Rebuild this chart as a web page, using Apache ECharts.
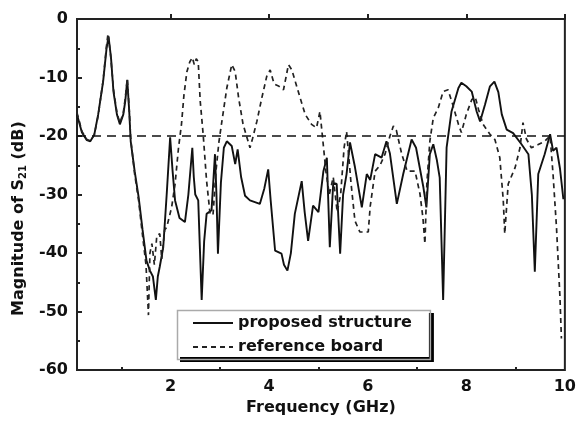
<!DOCTYPE html>
<html>
<head>
<meta charset="utf-8">
<script src="https://cdn.jsdelivr.net/npm/echarts@6/dist/echarts.min.js"></script>
<style>
html,body{margin:0;padding:0;background:#fff;}
#c{width:579px;height:421px;}
</style>
</head>
<body>
<div id="c"></div>
<script>
// Frequency (GHz) and magnitude (dB) for the proposed structure
var solidFreq = [0.1,0.2,0.3,0.37,0.45,0.53,0.63,0.70,0.74,0.79,0.84,0.91,0.97,1.04,1.08,1.12,1.16,1.19,1.27,1.35,1.43,1.51,1.58,1.64,1.70,1.74,1.78,1.85,1.92,1.99,2.04,2.09,2.18,2.29,2.36,2.44,2.47,2.50,2.56,2.63,2.68,2.73,2.83,2.90,2.93,2.96,3.02,3.08,3.14,3.24,3.31,3.36,3.43,3.51,3.61,3.71,3.81,3.90,3.98,4.03,4.12,4.25,4.30,4.37,4.44,4.52,4.66,4.72,4.79,4.89,5.00,5.03,5.10,5.17,5.23,5.30,5.37,5.44,5.50,5.57,5.64,5.74,5.88,5.98,6.05,6.15,6.28,6.38,6.45,6.59,6.72,6.89,6.98,7.13,7.19,7.26,7.33,7.40,7.46,7.53,7.60,7.70,7.84,7.90,8.00,8.11,8.21,8.28,8.38,8.48,8.57,8.65,8.72,8.82,8.95,9.12,9.26,9.33,9.39,9.46,9.59,9.70,9.76,9.83,9.90,9.97];
var solidDb = [-16.3,-19.4,-20.7,-20.9,-19.8,-16.3,-10.7,-5,-3.0,-6.6,-12.4,-16.3,-18.0,-16.3,-14,-10.4,-15.8,-20.9,-26,-30.4,-36,-41.3,-43,-44,-48,-44,-42.3,-39,-30,-20.2,-26,-31,-34,-34.7,-30,-22,-27,-30,-31,-48,-38,-33.3,-32.7,-23.1,-30,-40.1,-28,-22,-20.9,-21.7,-24.8,-22.3,-27,-30.2,-31,-31.3,-31.6,-29,-25.7,-31,-39.6,-40.1,-42,-43.0,-40,-33.3,-27.7,-33,-37.9,-31.9,-33.0,-33.3,-26,-23.7,-39,-28,-28.2,-40.1,-30,-26.5,-21.1,-25.3,-32.2,-26.5,-27.5,-23.1,-23.7,-20.9,-23,-31.6,-26.5,-20.6,-22,-28.8,-32.2,-23.1,-21.4,-24,-27.1,-48.0,-22,-15.8,-11.8,-10.9,-11.5,-12.4,-15.8,-17.5,-14.6,-11.5,-10.7,-12.5,-16.3,-18.9,-19.5,-21.4,-23.1,-30,-43.2,-26.5,-23.1,-19.7,-22.5,-22,-25.5,-30.8];

// Frequency (GHz) and magnitude (dB) for the reference board
var refFreq = [0.1,0.2,0.3,0.37,0.45,0.53,0.63,0.70,0.73,0.78,0.84,0.91,0.97,1.04,1.08,1.12,1.16,1.19,1.27,1.35,1.43,1.50,1.55,1.58,1.62,1.67,1.72,1.78,1.82,1.88,1.92,2.02,2.09,2.16,2.22,2.27,2.33,2.39,2.44,2.48,2.52,2.56,2.60,2.66,2.73,2.80,2.86,2.92,2.98,3.04,3.14,3.24,3.31,3.38,3.47,3.54,3.61,3.66,3.75,3.85,3.95,4.02,4.08,4.12,4.20,4.29,4.34,4.39,4.46,4.59,4.73,4.86,4.96,5.03,5.10,5.15,5.22,5.30,5.38,5.45,5.52,5.57,5.62,5.66,5.74,5.84,6.01,6.05,6.15,6.25,6.35,6.45,6.52,6.58,6.69,6.80,6.96,7.06,7.12,7.16,7.20,7.26,7.33,7.43,7.53,7.63,7.72,7.84,7.90,8.00,8.11,8.18,8.25,8.34,8.48,8.58,8.68,8.75,8.78,8.85,8.99,9.09,9.15,9.22,9.32,9.45,9.59,9.70,9.76,9.83,9.90,9.93];
var refDb = [-16.0,-19.2,-20.6,-20.8,-19.8,-16.5,-10.5,-4.5,-2.5,-6,-12,-16,-17.8,-16,-13.5,-10.2,-15.5,-20.5,-26.5,-31,-37,-42,-50.6,-40,-38.4,-42,-37,-36.7,-41,-36,-35.6,-32.2,-28.2,-22,-18,-13,-9.0,-7.3,-6.6,-7.8,-6.8,-7.3,-14,-19.7,-27.7,-33.3,-33.5,-26,-21,-17.5,-11.8,-7.8,-9.0,-13.5,-18,-20,-22,-20.5,-17.5,-13.5,-9.8,-8.7,-10.5,-11.2,-11.5,-12.1,-10,-7.8,-8.7,-12.4,-16.3,-18,-18.6,-15.8,-21.7,-26,-30,-27,-33,-30,-22,-19.2,-24,-28,-34.5,-36.4,-36.4,-32,-26,-25,-23.1,-20,-18.3,-19,-23.1,-26,-26,-29.9,-34,-38.4,-28,-20.9,-16.9,-15.2,-12.4,-12.1,-14.5,-18,-19.4,-16.3,-13.8,-13.3,-15.5,-18,-19.7,-20.6,-23.7,-31,-36.7,-28.2,-25.4,-22,-17.7,-20.5,-22,-21.5,-20.9,-20,-26.5,-35.6,-47.5,-54.6];

var threshold = -20;
var xMajorTicks = [2,4,6,8,10];
var xMinorTicks = [1,3,5,7,9];
var seriesNames = ['proposed structure', 'reference board'];

function pairs(xs, ys){ var o=[]; for (var i=0;i<xs.length;i++) o.push([xs[i], ys[i]]); return o; }

var FONT = 'DejaVu Sans';
// legend box geometry (for its thin gray outline drawn above the shadowed legend background)
var LEG = {left: 175, top: 308, pad: [7, 17, 2, 17], itemW: 40, gap: 5, row: 16, itemGap: 8};
var cv = document.createElement('canvas').getContext('2d');
cv.font = 'bold 16px "DejaVu Sans"';
var textW = Math.max.apply(null, seriesNames.map(function(s){ return cv.measureText(s).width; }));
var legW = LEG.pad[3] + LEG.itemW + LEG.gap + textW + LEG.pad[1];
var legH = LEG.pad[0] + LEG.row * 2 + LEG.itemGap + LEG.pad[2];

var chart = echarts.init(document.getElementById('c'), null, {renderer:'canvas'});
chart.setOption({
  animation: false,
  backgroundColor: '#fff',
  grid: {left: 77, top: 19, right: 12, bottom: 49, show: true, borderColor: '#222', borderWidth: 2, backgroundColor: 'transparent'},
  legend: {
    orient: 'vertical', left: LEG.left, top: LEG.top,
    data: seriesNames,
    backgroundColor: '#fff', borderWidth: 0, borderRadius: 0,
    padding: LEG.pad,
    itemWidth: LEG.itemW, itemHeight: 20, itemGap: LEG.itemGap,
    itemStyle: {opacity: 0},
    shadowColor: '#000', shadowBlur: 0, shadowOffsetX: 5, shadowOffsetY: 5,
    textStyle: {fontFamily: FONT, fontWeight: 'bold', fontSize: 16, color: '#111'}
  },
  graphic: [{
    type: 'rect', left: LEG.left, top: LEG.top, z: 100, silent: true,
    shape: {width: legW, height: legH},
    style: {fill: null, stroke: '#aaa', lineWidth: 1.5}
  }],
  xAxis: [{
    type: 'value', min: 0.1, max: 10,
    name: 'Frequency (GHz)', nameLocation: 'middle', nameGap: 27,
    nameTextStyle: {fontFamily: FONT, fontWeight: 'bold', fontSize: 16, color: '#111'},
    axisLine: {show: true, lineStyle: {color: '#222', width: 2}},
    axisTick: {show: true, inside: true, length: 5, customValues: xMajorTicks, lineStyle: {color: '#222', width: 2}},
    axisLabel: {customValues: xMajorTicks, fontFamily: FONT, fontWeight: 'bold', fontSize: 16, color: '#111', margin: 9},
    splitLine: {show: false}
  }, {
    type: 'value', min: 0.1, max: 10, position: 'bottom',
    axisLine: {show: false},
    axisTick: {show: true, inside: true, length: 3, customValues: xMinorTicks, lineStyle: {color: '#222', width: 2}},
    axisLabel: {show: false},
    splitLine: {show: false}
  }],
  yAxis: {
    type: 'value', min: -60, max: 0, interval: 10,
    name: 'Magnitude of S{sub|21} (dB)', nameLocation: 'middle', nameGap: 46, nameRotate: 90,
    nameTextStyle: {fontFamily: FONT, fontWeight: 'bold', fontSize: 16, color: '#111', padding: [0, 48, 0, 0],
      rich: {sub: {fontFamily: FONT, fontWeight: 'bold', fontSize: 10, color: '#111', verticalAlign: 'bottom', padding: [8, 0, 0, 0]}}},
    axisLine: {show: true, lineStyle: {color: '#222', width: 2}},
    axisTick: {show: true, inside: true, length: 5, lineStyle: {color: '#222', width: 2}},
    minorTick: {show: true, splitNumber: 2, length: 3, lineStyle: {color: '#222', width: 2}},
    axisLabel: {fontFamily: FONT, fontWeight: 'bold', fontSize: 16, color: '#111', margin: 9},
    splitLine: {show: false}
  },
  series: [{
    name: seriesNames[0], type: 'line', xAxisIndex: 0,
    data: pairs(solidFreq, solidDb),
    showSymbol: false, symbol: 'none',
    lineStyle: {color: '#111', width: 1.9, type: 'solid'},
    itemStyle: {color: '#111'},
    markLine: {silent: true, symbol: 'none', label: {show: false},
      lineStyle: {color: '#111', width: 1.6, type: [9, 6]},
      data: [{yAxis: threshold}]}
  }, {
    name: seriesNames[1], type: 'line', xAxisIndex: 0,
    data: pairs(refFreq, refDb),
    showSymbol: false, symbol: 'none',
    lineStyle: {color: '#222', width: 1.7, type: [5, 4]},
    itemStyle: {color: '#222'}
  }]
});
</script>
</body>
</html>
